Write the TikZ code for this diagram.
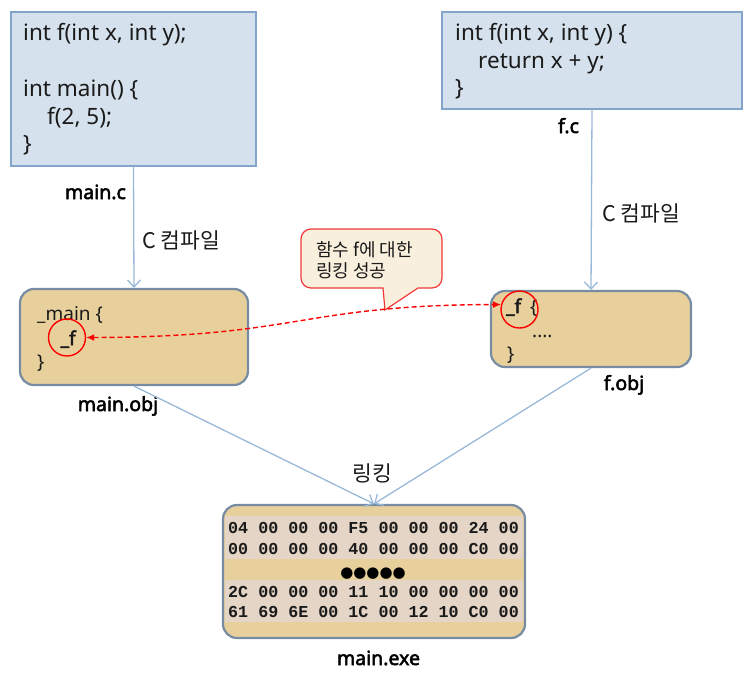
\documentclass[tikz,border=0pt]{standalone}
\usepackage{fontspec}
\setmainfont{Noto Sans}[AutoFakeBold=2.6]
\newfontfamily\kr{Noto Sans CJK KR}
\newfontfamily\hexfont{Liberation Mono}
\newfontfamily\symfont{DejaVu Sans}
\usetikzlibrary{arrows.meta}
\definecolor{srcfill}{HTML}{D5E2ED}
\definecolor{srcborder}{HTML}{84A5CB}
\definecolor{objfill}{HTML}{E8D09D}
\definecolor{objborder}{HTML}{778CA3}
\definecolor{bandfill}{HTML}{E4D5C6}
\definecolor{flowblue}{HTML}{9AB8D8}
\definecolor{calloutfill}{HTML}{F8EFDD}
\definecolor{calloutborder}{HTML}{F03A3A}
\definecolor{txt}{HTML}{1A1A1A}
\begin{document}
\begin{tikzpicture}[x=1pt,y=-1pt,
  srcbox/.style={draw=srcborder, fill=srcfill, line width=1.2pt, inner sep=0pt},
  objbox/.style={draw=objborder, fill=objfill, line width=2.2pt, rounded corners=14pt, inner sep=0pt},
  flow/.style={draw=flowblue, line width=1.3pt, -{Straight Barb[length=7pt,width=13pt]}},
  code/.style={anchor=base west, inner sep=0pt, text=txt, font=\fontsize{22.5}{26}\selectfont},
  objcode/.style={anchor=base west, inner sep=0pt, text=txt, font=\fontsize{19}{23}\selectfont},
  objbold/.style={objcode, font=\bfseries\fontsize{19}{23}\selectfont},
  lbl/.style={anchor=base, inner sep=0pt, text=black, font=\bfseries\fontsize{19.5}{22}\selectfont},
  krlbl/.style={anchor=base west, inner sep=0pt, text=txt, font=\kr\fontsize{21.5}{24}\selectfont},
  hex/.style={anchor=base west, inner sep=0pt, text=txt, font=\hexfont\bfseries\fontsize{16.7}{20}\selectfont},
  redcirc/.style={draw=red, line width=1.4pt, circle, minimum size=37pt, inner sep=0pt},
  reddash/.style={draw=red, line width=1.4pt, dash pattern=on 5pt off 3pt, {Latex[length=8pt,width=7pt]}-{Latex[length=8pt,width=7pt]}},
]
\useasboundingbox (0,0) rectangle (751,675);

% source boxes
\node[srcbox, minimum width=245pt, minimum height=154pt] (mainc) at (133.5,89) {};
\node[srcbox, minimum width=300pt, minimum height=97pt] (fc) at (592,60.5) {};
\node[code] (mc1) at (23,40.5) {int f(int x, int y);};
\node[code] (mc2) at (23,96.5) {int main() \{};
\node[code] (mc3) at (47,124) {f(2, 5);};
\node[code] (mc4) at (23,151.5) {\}};
\node[code] (fc1) at (455,40.5) {int f(int x, int y) \{};
\node[code] (fc2) at (478,68) {return x + y;};
\node[code] (fc3) at (455,95.5) {\}};
\node[lbl] (lmainc) at (95.5,199) {main.c};
\node[lbl] (lfc) at (568.5,133) {f.c};

% object boxes
\node[objbox, minimum width=228pt, minimum height=96pt] (mainobj) at (134,337) {};
\node[objbox, minimum width=200pt, minimum height=76pt] (fobj) at (591,329) {};
\node[objcode] (mo1) at (37,320.5) {\_main \{};
\node[objbold] (mo2) at (60.5,345) {\_f};
\node[objcode] (mo3) at (37,368) {\}};
\node[objbold] (fo1) at (506,313) {\_f};
\node[objcode] (fo1b) at (530,313) {\{};
\node[objcode] (fo2) at (532,337) {....};
\node[objcode] (fo3) at (507,360) {\}};
\node[lbl] (lmainobj) at (118,411) {main.obj};
\node[lbl] (lfobj) at (624,390) {f.obj};

% compile arrows
\draw[flow] (mainc.south) -- (mainobj.north);
\draw[flow] (fc.south) -- (fobj.north);
\node[krlbl] (comp1) at (142,248) {C 컴파일};
\node[krlbl] (comp2) at (602,221) {C 컴파일};

% exe box
\node[objbox, minimum width=302pt, minimum height=133pt] (exe) at (374,571.5) {};
\fill[bandfill] (225,516) rectangle (523,559);
\fill[bandfill] (225,580) rectangle (523,622);
\node[hex] (h1) at (228,533) {04 00 00 00 F5 00 00 00 24 00};
\node[hex] (h2) at (228,554) {00 00 00 00 40 00 00 00 C0 00};
\node[anchor=base, inner sep=0pt, font=\symfont\fontsize{15}{17}\selectfont] (dots) at (373,577) {●●●●●};
\node[hex] (h3) at (228,597) {2C 00 00 00 11 10 00 00 00 00};
\node[hex] (h4) at (228,617) {61 69 6E 00 1C 00 12 10 C0 00};
\node[lbl] (lexe) at (378.5,665) {main.exe};

% linking arrows
\draw[flow] (mainobj.south) -- (exe.north);
\draw[flow] (fobj.south) -- (exe.north);
\node[krlbl, anchor=base] (link) at (372,481) {링킹};

% callout
\draw[fill=calloutfill, draw=calloutborder, line width=1.2pt]
  (383,288) -- (385,310) -- (418,288) [rounded corners=10pt] -- (442,288) -- (442,229) -- (301,229) -- (301,288) [sharp corners] -- cycle;
\node[anchor=base west, inner sep=0pt, text=txt, font=\kr\fontsize{18}{21}\selectfont] (co1) at (316,256) {함수 f에 대한};
\node[anchor=base west, inner sep=0pt, text=txt, font=\kr\fontsize{18}{21}\selectfont] (co2) at (316,277) {링킹 성공};

% red circles and link curve
\node[redcirc] (cmain) at (67,337.5) {};
\node[redcirc] (cf) at (519.5,309.5) {};
\draw[reddash] (cmain.east) .. controls (300,337) and (300,305) .. (cf.165);
\end{tikzpicture}
\end{document}
